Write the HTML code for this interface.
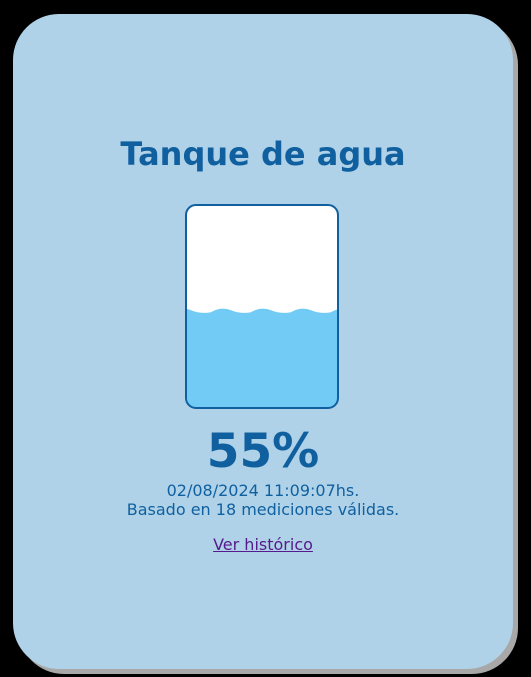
<!DOCTYPE html>
<html><head><meta charset="utf-8"><style>
body{margin:0;width:531px;height:677px;background:#000;position:relative;overflow:hidden;font-family:"DejaVu Sans","Liberation Sans",sans-serif}
.shadow{position:absolute;left:18px;top:19px;width:500px;height:655px;border-radius:46px;background:#a8a8a8}
.card{position:absolute;left:13px;top:14px;width:500px;height:655px;border-radius:46px;background:#afd2e8;color:#1060a0;text-align:center}
h1{position:absolute;left:0;right:0;top:121px;margin:0;font-size:32px;font-weight:bold;line-height:38px}
svg{position:absolute;left:158px;top:176px}
.pct{position:absolute;left:0;right:0;top:410px;font-size:47px;font-weight:bold;line-height:56px}
.l1{position:absolute;left:0;right:0;top:467px;font-size:16px;line-height:19px}
.l2{position:absolute;left:0;right:0;top:486px;font-size:16px;line-height:19px}
a{position:absolute;left:0;right:0;top:521px;font-size:16px;line-height:19px;color:#551a8b}
</style></head><body>
<div class="shadow"></div>
<div class="card">
<h1>Tanque de agua</h1>
<svg width="170" height="240">
<defs><clipPath id="c"><rect x="16" y="16" width="151" height="202" rx="10"/></clipPath></defs>
<rect x="15" y="15" width="152" height="203" rx="10" fill="#fff"/>
<path id="water" clip-path="url(#c)" fill="#72cbf4"/>
<rect x="15" y="15" width="152" height="203" rx="10" fill="none" stroke="#1060a0" stroke-width="2"/>
</svg>
<div class="pct">55%</div>
<div class="l1">02/08/2024 11:09:07hs.</div>
<div class="l2">Basado en 18 mediciones válidas.</div>
<a href="#">Ver histórico</a>
</div>
<script>
const level=[55];
const top0=16,bottom=218;
// visual mapping calibrated to reference
function yOf(v){return bottom-(v/100)*(bottom-top0)*0.88;}
const y=yOf(level[0]);
let d="M0 "+(y+2);
for(let x=0;x<180;x+=40){d+=" Q"+(x+10)+" "+(y-4)+" "+(x+20)+" "+(y)+" T"+(x+40)+" "+(y+2);}
d+=" L180 240 L0 240 Z";
document.getElementById('water').setAttribute('d',d);
</script>
</body></html>
